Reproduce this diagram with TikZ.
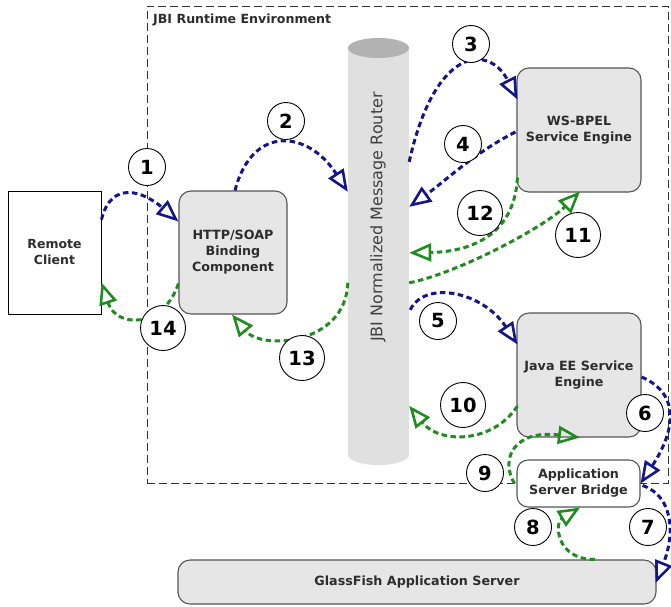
\documentclass[tikz,border=0pt]{standalone}
\usepackage{fontspec}
\setmainfont{DejaVu Sans}
\usetikzlibrary{arrows.meta,calc}

\definecolor{flowblue}{RGB}{20,20,140}
\definecolor{flowgreen}{RGB}{30,140,30}
\definecolor{boxfill}{RGB}{230,230,230}
\definecolor{boxline}{RGB}{85,85,85}
\definecolor{labelgray}{RGB}{45,45,45}
\definecolor{cylbody}{RGB}{224,224,224}
\definecolor{cyltop}{RGB}{178,178,178}

\tikzset{
  box/.style={draw=boxline, line width=1.1pt, fill=boxfill, rounded corners=12pt,
    align=center, inner sep=0pt, text=labelgray, font=\bfseries\fontsize{12.7}{16}\selectfont},
  client/.style={draw=black, line width=0.9pt, fill=white, align=center, inner sep=0pt,
    text=labelgray, font=\bfseries\fontsize{12.5}{16}\selectfont},
  num/.style={circle, draw=black, line width=0.9pt, fill=white, inner sep=0pt,
    minimum size=37pt, font=\bfseries\fontsize{19.5}{19.5}\selectfont},
  numwide/.style={num, minimum size=45pt},
  flow/.style={line width=3pt, dash pattern=on 5.5pt off 3.5pt,
    -{Triangle[open, length=22pt, width=18pt, line width=2.6pt]}},
  req/.style={flow, draw=flowblue},
  resp/.style={flow, draw=flowgreen}
}

\begin{document}
\begin{tikzpicture}[x=1pt, y=-1pt]
\useasboundingbox (0,0) rectangle (671,606);

% JBI runtime boundary
\node[draw=black!80, line width=0.9pt, dash pattern=on 8pt off 4pt,
      minimum width=521pt, minimum height=477pt, inner sep=0pt] (jbi) at (407.5,244.5) {};
\node[anchor=west, inner sep=0pt, text=labelgray, font=\bfseries\fontsize{12.6}{13}\selectfont]
  (jbilabel) at (153,20) {JBI Runtime Environment};

% message router cylinder
\fill[cylbody] (348,48) rectangle (409,455);
\fill[cylbody] (378.5,455) ellipse [x radius=30.5, y radius=10];
\fill[cyltop] (378.5,48) ellipse [x radius=30.5, y radius=10];
\node[minimum width=61pt, minimum height=427pt, inner sep=0pt] (router) at (378.5,251.5) {};
\node[rotate=90, inner sep=0pt, text=black!75, font=\fontsize{16}{16}\selectfont]
  (routerlabel) at (378,217) {JBI Normalized Message Router};

% components
\node[client, minimum width=93pt, minimum height=123pt] (rc) at (54.5,252.5) {Remote\\Client};
\node[box, minimum width=108pt, minimum height=123pt] (http) at (233,252.5) {HTTP/SOAP\\Binding\\Component};
\node[box, minimum width=124pt, minimum height=124pt] (bpel) at (579,130) {WS-BPEL\\Service Engine};
\node[box, minimum width=124pt, minimum height=124pt] (javaee) at (579,375) {Java EE Service\\Engine};
\node[box, fill=white, rounded corners=11pt, minimum width=123pt, minimum height=47pt] (bridge)
  at (578.5,483.5) {Application\\Server Bridge};
\node[box, minimum width=478pt, minimum height=44pt] (gf) at (417,582) {GlassFish Application Server};

% message flow
\draw[req] ($(rc.north east)+(0,29)$) .. controls +(10,-40) and +(-35,-30) .. ($(http.north west)+(0,31)$);
\draw[req] ($(http.north)+(2,0)$) .. controls +(17,-66) and +(-40,-62) .. ($(router.north west)+(0,154)$);
\draw[req] ($(router.north east)+(0,124)$) .. controls +(26,-117) and +(-28,-55) .. ($(bpel.north west)+(1,32)$);
\draw[req] ($(bpel.west)+(-1,2)$) .. controls +(-40,20) and +(35,-25) .. ($(router.north east)+(0,169)$);
\draw[req] ($(router.north east)+(1,272)$) .. controls +(15,-30) and +(-35,-53) .. ($(javaee.north west)+(1,32)$);
\draw[req] ($(javaee.east)+(0,2)$) .. controls +(42,18) and +(32,-48.5) .. (bridge.east);
\draw[req] ($(bridge.east)+(2,2)$) .. controls +(30,10) and +(20,-50) .. ($(gf.east)+(-1,1)$);
\draw[resp] ($(gf.north)+(178,0)$) .. controls +(-40,0) and +(-25,15) .. ($(bridge.south)+(1.5,0)$);
\draw[resp] ($(bridge.west)+(-2,0)$) .. controls +(-15,-25.5) and +(-65,-8) .. ($(javaee.south)+(1,0)$);
\draw[resp] ($(javaee.west)+(1,31)$) .. controls +(-25,38) and +(30,38) .. ($(router.north east)+(0,368)$);
\draw[resp] ($(router.north east)+(0,245)$) .. controls +(50,-10) and +(-35,35) .. ($(bpel.south)+(1,-1)$);
\draw[resp] ($(bpel.south west)+(1,-15)$) .. controls +(-3,58) and +(61,-1) .. ($(router.north east)+(0,215)$);
\draw[resp] ($(router.north west)+(0,245)$) .. controls +(-2,62) and +(30,36) .. ($(http.south)+(-1,0)$);
\draw[resp] ($(http.south west)+(0,-31)$) .. controls +(-15,45) and +(15,46) .. ($(rc.south east)+(0,-32)$);

% step numbers
\node[num] (n1) at (147,167) {1};
\node[num] (n2) at (286,121) {2};
\node[num] (n3) at (471,44) {3};
\node[num] (n4) at (463,144) {4};
\node[num] (n5) at (438,321) {5};
\node[num] (n6) at (645,413) {6};
\node[num] (n7) at (648,527) {7};
\node[num] (n8) at (533,527) {8};
\node[num] (n9) at (485,473) {9};
\node[numwide] (n10) at (463,405) {10};
\node[numwide] (n11) at (578,235) {11};
\node[numwide] (n12) at (480,213) {12};
\node[numwide] (n13) at (302,358) {13};
\node[numwide] (n14) at (163,328) {14};
\end{tikzpicture}
\end{document}
